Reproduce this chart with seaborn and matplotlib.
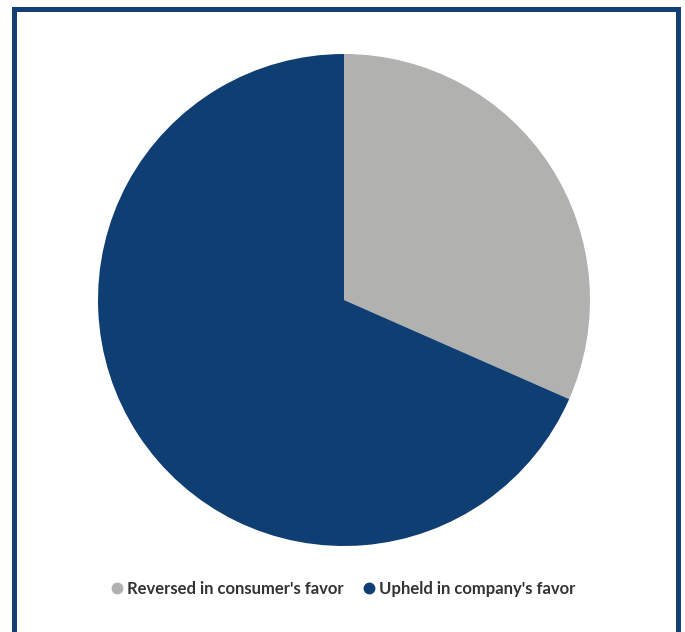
import matplotlib
matplotlib.use("Agg")
import matplotlib.pyplot as plt
import seaborn as sns
from matplotlib.lines import Line2D
from matplotlib.patches import Rectangle

categories = ["Reversed in consumer's favor", "Upheld in company's favor"]
values = [31.6, 68.4]
colors = ["#b1b2b0", "#0f3e73"]

sns.set_theme(style="white")
plt.rcParams['font.family'] = ['Lato', 'DejaVu Sans']

W, H = 685, 632
fig = plt.figure(figsize=(W / 100, H / 100), dpi=100)
fig.patch.set_facecolor("white")

# frame
fig.patches.append(Rectangle((13.5 / W, -0.1), (678 - 13.5) / W, 1.1 - 8.5 / H,
                             transform=fig.transFigure, fill=False,
                             edgecolor="#123f74", linewidth=3.6, zorder=0))

cx, cy, r = 344, 300, 246
ax = fig.add_axes([(cx - r) / W, (H - cy - r) / H, 2 * r / W, 2 * r / H])
ax.pie(values, colors=colors, startangle=90, counterclock=False,
       wedgeprops=dict(linewidth=0))
ax.set_aspect("equal")
ax.set_xlim(-1, 1)
ax.set_ylim(-1, 1)
ax.axis("off")

handles = [Line2D([], [], marker="o", linestyle="none", markersize=7.5,
                  markerfacecolor=c, markeredgecolor=c) for c in colors]
leg = fig.legend(handles, categories, loc="center", bbox_to_anchor=(343 / W, 1 - 589 / H),
                 ncol=2, frameon=False, handletextpad=0.2, columnspacing=1.1,
                 handlelength=0.8, prop=dict(size=12, weight="bold"))
for t in leg.get_texts():
    t.set_color("#333333")

fig.savefig("out.png", dpi=100, facecolor="white")
